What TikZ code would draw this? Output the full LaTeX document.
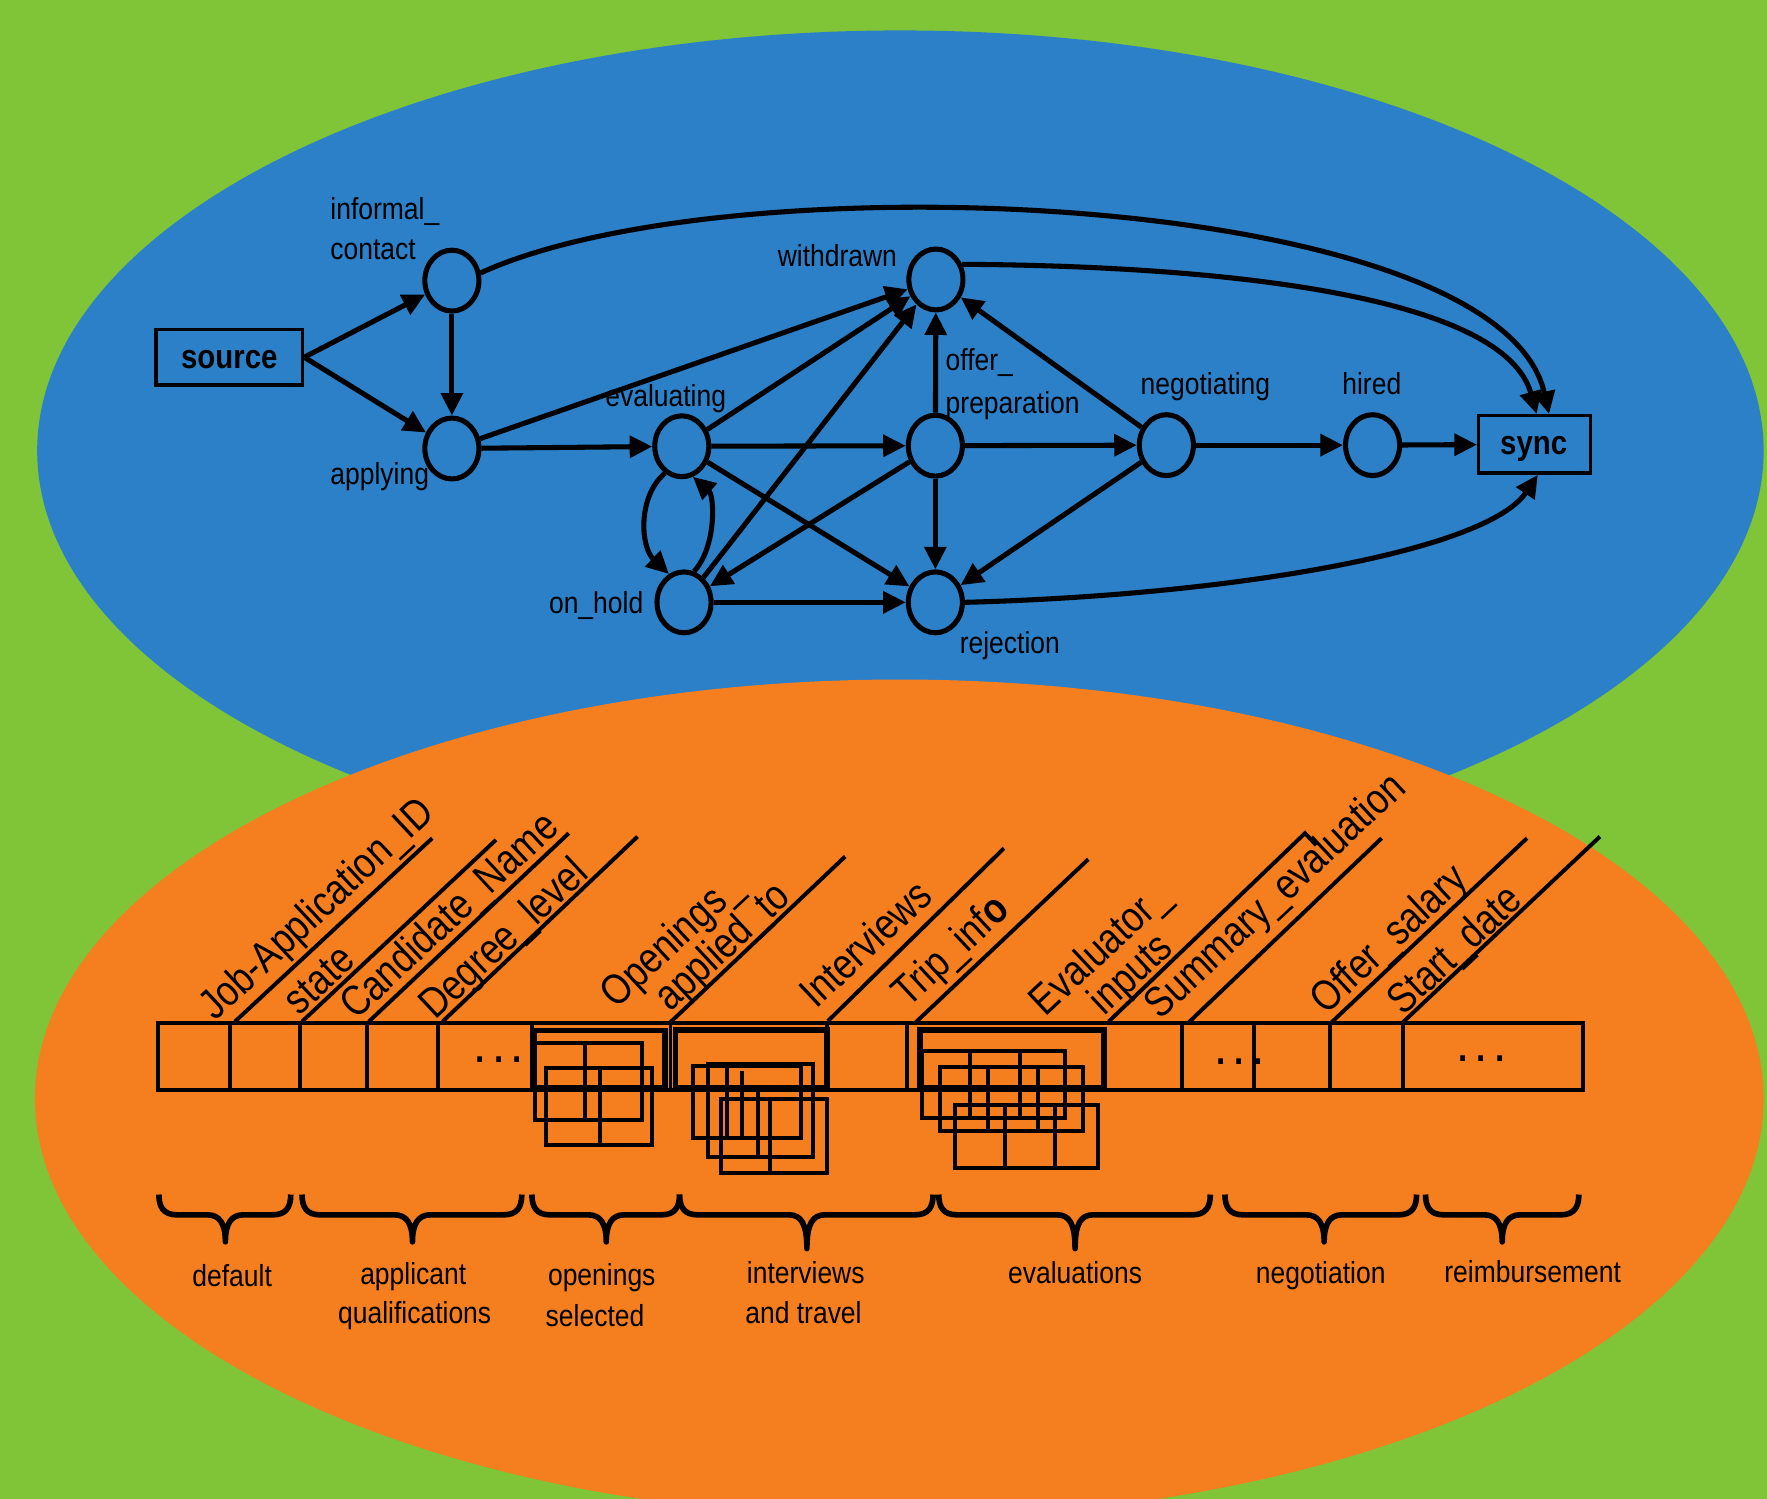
\documentclass[tikz,border=0pt]{standalone}
\usepackage{fontspec}
\setmainfont[FakeStretch=0.87]{Liberation Sans}
\newfontfamily\slantfont[FakeStretch=0.84]{Liberation Sans}
\usetikzlibrary{arrows.meta,shapes.geometric}
\definecolor{bggreen}{HTML}{80C438}
\definecolor{topblue}{HTML}{2C80C8}
\definecolor{loworange}{HTML}{F57F1E}

% curly underbrace: left x, tip x, right x, tip y
\newcommand\drawbrace[4]{%
  \draw[bracestroke] (#1,1060) .. controls (#1,1071) and (#1+4,1078) .. (#1+16,1078)
    -- (#2-16,1078) .. controls (#2-5,1078) and (#2,1086) .. (#2,#4)
    .. controls (#2,1086) and (#2+5,1078) .. (#2+16,1078)
    -- (#3-16,1078) .. controls (#3-4,1078) and (#3,1071) .. (#3,1060);}

\begin{document}
\begin{tikzpicture}[x=1pt,y=-1pt,
  place/.style={ellipse, draw, line width=4.5pt, minimum width=48pt, minimum height=54pt, inner sep=0pt},
  term/.style={draw, line width=3pt, inner sep=0pt},
  termtext/.style={inner sep=0pt, anchor=base, font=\bfseries\fontsize{30}{30}\selectfont},
  lbl/.style={inner sep=0pt, font=\fontsize{27}{27}\selectfont},
  slant/.style={inner sep=0pt, rotate=43, anchor=base west, font=\slantfont\fontsize{38}{38}\selectfont},
  arr/.style={line width=4.5pt, -{Triangle[length=20pt,width=19pt]}},
  cellline/.style={line width=3.5pt},
  setline/.style={line width=5pt},
  bracestroke/.style={line width=5pt, line join=round},
  dots/.style={inner sep=0pt, anchor=base, font=\bfseries\fontsize{34}{34}\selectfont}]

\useasboundingbox (0,0) rectangle (1568,1330);
\clip (0,0) rectangle (1568,1330);
\fill[bggreen] (0,0) rectangle (1568,1330);
\fill[topblue] (799,400) ellipse [x radius=766pt, y radius=373pt];
\fill[loworange] (798,975) ellipse [x radius=767pt, y radius=372pt];

% ---------------- process net ----------------
\node[term, minimum width=130pt, minimum height=49pt] (src) at (203.5,317) {};
\node[term, minimum width=99pt, minimum height=51pt] (sync) at (1361.6,394.3) {};
\node[termtext] (tsrc) at (203.5,326.6) {source};
\node[termtext] (tsync) at (1361,403.5) {sync};

\node[place] (inf)   at (401,249) {};
\node[place] (app)   at (401,398) {};
\node[place] (eval)  at (605,396) {};
\node[place] (hold)  at (607,534.5) {};
\node[place] (wd)    at (830.5,248) {};
\node[place] (offer) at (830,395.5) {};
\node[place] (rej)   at (830,534.5) {};
\node[place] (neg)   at (1035,395) {};
\node[place] (hired) at (1218,395) {};

\node[lbl, anchor=base west] (tinf1) at (293,194.5) {informal\_};
\node[lbl, anchor=base west] (tinf2) at (293,230.5) {contact};
\node[lbl, anchor=base west] (tapp) at (293,430) {applying};
\node[lbl, anchor=base west] (teval) at (537,361) {evaluating};
\node[lbl, anchor=base west] (twd) at (690,236.5) {withdrawn};
\node[lbl, anchor=base west] (toff1) at (839,329) {offer\_};
\node[lbl, anchor=base west] (toff2) at (839,366.5) {preparation};
\node[lbl, anchor=base east] (thold) at (571,544.5) {on\_hold};
\node[lbl, anchor=base west] (trej) at (851.5,579.5) {rejection};
\node[lbl, anchor=base west] (tneg) at (1012,350.5) {negotiating};
\node[lbl, anchor=base west] (thired) at (1191,350.5) {hired};

\draw[arr] (src.east) -- (inf);
\draw[arr] (src.east) -- (app);
\draw[arr] (inf) -- (app);
\draw[arr] (app) -- (wd);
\draw[arr] (app) -- (eval);
\draw[arr] (eval) -- (wd);
\draw[arr] (eval) -- (offer);
\draw[arr] (eval) -- (rej);
\draw[arr] (hold) -- (wd);
\draw[arr] (hold) -- (rej);
\draw[arr] (offer) -- (wd);
\draw[arr] (offer) -- (hold);
\draw[arr] (offer) -- (neg);
\draw[arr] (offer) -- (rej);
\draw[arr] (neg) -- (wd);
\draw[arr] (neg) -- (rej);
\draw[arr] (neg) -- (hired);
\draw[arr] (hired) -- (sync);
\draw[arr] (eval.238) .. controls (566,440) and (568,485) .. (hold.118);
\draw[arr] (hold.72) .. controls (636,485) and (634,440) .. (eval.290);
\draw[arr] (inf.15) .. controls (650,140) and (1330,170) .. ([xshift=13pt]sync.north);
\draw[arr] (wd.30) .. controls (1100,236) and (1335,265) .. ([xshift=2pt]sync.north);
\draw[arr] (rej.east) .. controls (1100,528) and (1320,488) .. ([xshift=3pt]sync.south);

% ---------------- record layout ----------------
\draw[cellline] (140.5,908) rectangle (1405,967);
\foreach \x in {204,266,326,389,472,595,734,805,1049,1113,1180,1245}
  \draw[cellline] (\x,908) -- (\x,967);

\draw[setline] (474,914.5) rectangle (590,965);
\draw[setline] (599.5,914) rectangle (734,965);
\draw[setline] (816.4,914) rectangle (979.6,965.5);

% openings applied to
\draw[cellline] (474.7,925.8) rectangle (569.4,993.8) (519,925.8) -- (519,993.8);
\draw[cellline] (484.5,948) rectangle (578.3,1016) (532.4,948) -- (532.4,1016);
% interviews
\draw[cellline] (615.2,945.6) rectangle (711,1010) (644.8,945.6) -- (644.8,1010) (658.1,950) -- (658.1,1010);
\draw[cellline] (628,944.4) rectangle (721.7,1026.3) (672.9,966) -- (672.9,1026.3);
\draw[cellline] (639.8,975.5) rectangle (733.5,1041.1) (683.2,975.5) -- (683.2,1041.1);
% evaluator inputs
\draw[cellline] (817.8,933) rectangle (945,992) (860.7,933) -- (860.7,992) (905,933) -- (905,992);
\draw[cellline] (834,946.5) rectangle (961,1004) (877,946.5) -- (877,1004) (921,946.5) -- (921,1004);
\draw[cellline] (847.4,980.5) rectangle (974.5,1036.7) (891.7,980.5) -- (891.7,1036.7) (936,980.5) -- (936,1036.7);

\node[dots] (dots1) at (442.5,943) {.\kern8pt.\kern8pt.};
\node[dots] (dots2) at (1100,944.5) {.\kern8pt.\kern8pt.};
\node[dots] (dots3) at (1314.7,941.5) {.\kern8pt.\kern8pt.};

% slanted field names and their leader lines
\draw[cellline] (208.4,906.6) -- (383.5,743.8);
\draw[cellline] (267.9,906.6) -- (440.1,745.3);
\draw[cellline] (327.2,906.6) -- (504.7,739.4);
\draw[cellline] (392.6,906.6) -- (565.7,742.4);
\draw[cellline] (594,908) -- (750,760);
\draw[cellline] (734.7,906) -- (890.9,752.7);
\draw[cellline] (811.7,908) -- (965.7,762.5);
\draw[cellline] (983.8,906.5) -- (1158,739.4) -- (1168,750);
\draw[cellline] (1054,908) -- (1226,743.8);
\draw[cellline] (1180.7,908) -- (1355,743.8);
\draw[cellline] (1244,908) -- (1419.7,742.4);

\node[slant] (f1) at (191,907) {Job-Application\_ID};
\node[slant] (f2) at (266,902) {state};
\node[slant] (f3) at (316,906) {Candidate\_Name};
\node[slant] (f4) at (386,906) {Degree\_level};
\node[slant] (f5a) at (547,896) {Openings\_};
\node[slant] (f5b) at (595,899) {applied\_to};
\node[slant] (f6) at (724,896) {Interviews};
\node[slant] (f7) at (806,895) {Trip\_inf{\bfseries o}};
\node[slant] (f8a) at (928,903) {Evaluator\_};
\node[slant] (f8b) at (980,902) {inputs};
\node[slant] (f9) at (1030,906) {Summary\_evaluation};
\node[slant] (f10) at (1177,901) {Offer\_salary};
\node[slant] (f11) at (1245,902) {Start\_date};

% groups
\drawbrace{141}{200}{258}{1102}
\drawbrace{268}{366}{463}{1102}
\drawbrace{472}{538}{603}{1102}
\drawbrace{603}{716}{828}{1108}
\drawbrace{833}{954}{1074}{1108}
\drawbrace{1087}{1175}{1257}{1102}
\drawbrace{1265}{1333}{1401}{1102}

\node[lbl, anchor=base] (g1) at (206,1141.5) {default};
\node[lbl, anchor=base] (g2a) at (366.7,1140) {applicant};
\node[lbl, anchor=base] (g2b) at (368,1174) {qualifications};
\node[lbl, anchor=base] (g3a) at (534,1141) {openings};
\node[lbl, anchor=base] (g3b) at (528,1177) {selected};
\node[lbl, anchor=base] (g4a) at (715,1139) {interviews};
\node[lbl, anchor=base] (g4b) at (713,1174) {and travel};
\node[lbl, anchor=base] (g5) at (954,1139) {evaluations};
\node[lbl, anchor=base] (g6) at (1172,1139) {negotiation};
\node[lbl, anchor=base] (g7) at (1360,1138) {reimbursement};
\end{tikzpicture}
\end{document}
